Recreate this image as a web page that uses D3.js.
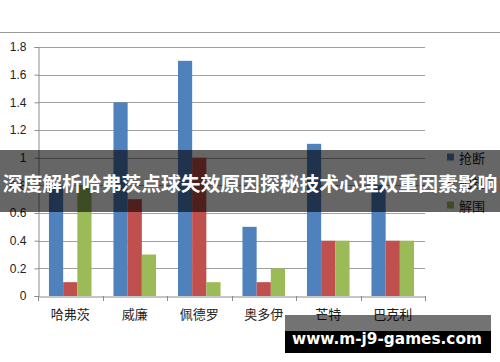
<!DOCTYPE html>
<html>
<head>
<meta charset="utf-8">
<script src="https://cdn.jsdelivr.net/npm/d3@7/dist/d3.min.js"></script>
<style>
html,body{margin:0;padding:0;background:#fff;}
svg{display:block;}
</style>
</head>
<body>
<svg id="chart" width="500" height="362"></svg>
<script>
const categories = ["哈弗茨", "威廉", "佩德罗", "奥多伊", "芒特", "巴克利"];
const seriesNames = ["抢断", "犯规", "解围"];
const steals = [0.8, 1.4, 1.7, 0.5, 1.1, 0.8];
const fouls = [0.1, 0.7, 1.0, 0.1, 0.4, 0.4];
const clearances = [0.8, 0.3, 0.1, 0.2, 0.4, 0.4];
const yTicks = [0, 0.2, 0.4, 0.6, 0.8, 1, 1.2, 1.4, 1.6, 1.8];
const titleText = "深度解析哈弗茨点球失效原因探秘技术心理双重因素影响";
const watermark = "www.m-j9-games.com";

(function () {
const colors = ["#4f81bd", "#c0504d", "#9bbb59"];
const seriesValues = [steals, fouls, clearances];

const svg = d3.select("#chart");
const pLeft = 38, pRight = 425, pTop = 47, pBottom = 296;

const x = d3.scaleBand().domain(categories).range([pLeft, pRight]).paddingInner(0.34).paddingOuter(0.17);
const x1 = d3.scaleBand().domain(seriesNames).range([0, x.bandwidth()]);
const y = d3.scaleLinear().domain([0, 1.8]).range([pBottom, pTop]);

// top frame line
svg.append("line").attr("x1", 0).attr("x2", 500).attr("y1", 32.5).attr("y2", 32.5)
  .attr("stroke", "#9a9a9a").attr("stroke-width", 1);

// gridlines
svg.append("g").selectAll("line").data(yTicks.filter(d => d > 0)).join("line")
  .attr("x1", pLeft).attr("x2", pRight)
  .attr("y1", d => Math.round(y(d)) + 0.5).attr("y2", d => Math.round(y(d)) + 0.5)
  .attr("stroke", "#a0a0a0").attr("stroke-width", 1);

// y axis
const yAxis = svg.append("g").attr("transform", `translate(${pLeft + 0.5},0)`)
  .call(d3.axisLeft(y).tickValues(yTicks).tickSize(4).tickPadding(8).tickFormat(d => String(d)));
yAxis.select(".domain").attr("stroke", "#8c8c8c");
yAxis.selectAll(".tick line").attr("stroke", "#8c8c8c");
yAxis.selectAll("text").attr("font-family", "Liberation Sans, Arial, sans-serif").attr("font-size", 12).attr("fill", "#222");

// x axis
const xAxis = svg.append("g").attr("transform", `translate(0,${pBottom + 0.5})`)
  .call(d3.axisBottom(x).tickSize(0).tickPadding(13));
xAxis.select(".domain").attr("stroke", "#8c8c8c");
xAxis.selectAll("text").attr("font-family", "Noto Sans CJK SC, sans-serif").attr("font-size", 13).attr("fill", "#222");
// category separators
const edges = categories.map(c => x(c) - x.step() * x.paddingInner() / 2).concat([pRight]);
svg.append("g").selectAll("line").data(edges).join("line")
  .attr("x1", d => Math.round(d) + 0.5).attr("x2", d => Math.round(d) + 0.5)
  .attr("y1", pBottom).attr("y2", pBottom + 5)
  .attr("stroke", "#8c8c8c");

// bars
const groups = svg.append("g").selectAll("g").data(categories).join("g")
  .attr("transform", c => `translate(${x(c)},0)`);
groups.selectAll("rect").data((c, i) => seriesNames.map((s, k) => ({s, k, v: seriesValues[k][i]}))).join("rect")
  .attr("x", d => x1(d.s))
  .attr("width", x1.bandwidth())
  .attr("y", d => y(d.v))
  .attr("height", d => y(0) - y(d.v))
  .attr("fill", d => colors[d.k]);

// legend
const legend = svg.append("g").selectAll("g").data(seriesNames).join("g")
  .attr("transform", (d, i) => `translate(447,${157 + i * 24})`);
legend.append("rect").attr("x", 0).attr("y", -3.5).attr("width", 7).attr("height", 7).attr("fill", (d, i) => colors[i]);
legend.append("text").attr("x", 12).attr("y", 0).attr("dominant-baseline", "central")
  .attr("font-family", "Noto Sans CJK SC, sans-serif").attr("font-size", 13).attr("fill", "#222").text(d => d);

// title banner overlay
svg.append("rect").attr("x", 0).attr("y", 150).attr("width", 500).attr("height", 62).attr("fill", "rgba(0,0,0,0.6)");
svg.append("text").attr("x", 250).attr("y", 182).attr("text-anchor", "middle").attr("dominant-baseline", "central")
  .attr("font-family", "Noto Sans CJK SC, sans-serif").attr("font-weight", "bold").attr("font-size", 19.8)
  .attr("fill", "#fff").text(titleText);

// watermark
svg.append("rect").attr("x", 285).attr("y", 315).attr("width", 206).attr("height", 16).attr("fill", "rgba(0,0,0,0.55)");
svg.append("rect").attr("x", 285).attr("y", 331).attr("width", 206).attr("height", 22).attr("fill", "#000");
svg.append("text").attr("x", 387).attr("y", 339).attr("text-anchor", "middle").attr("dominant-baseline", "central")
  .attr("font-family", "DejaVu Sans, sans-serif").attr("font-weight", "bold").attr("font-size", 15.3)
  .attr("fill", "#fff").text(watermark);
})();
</script>
</body>
</html>
